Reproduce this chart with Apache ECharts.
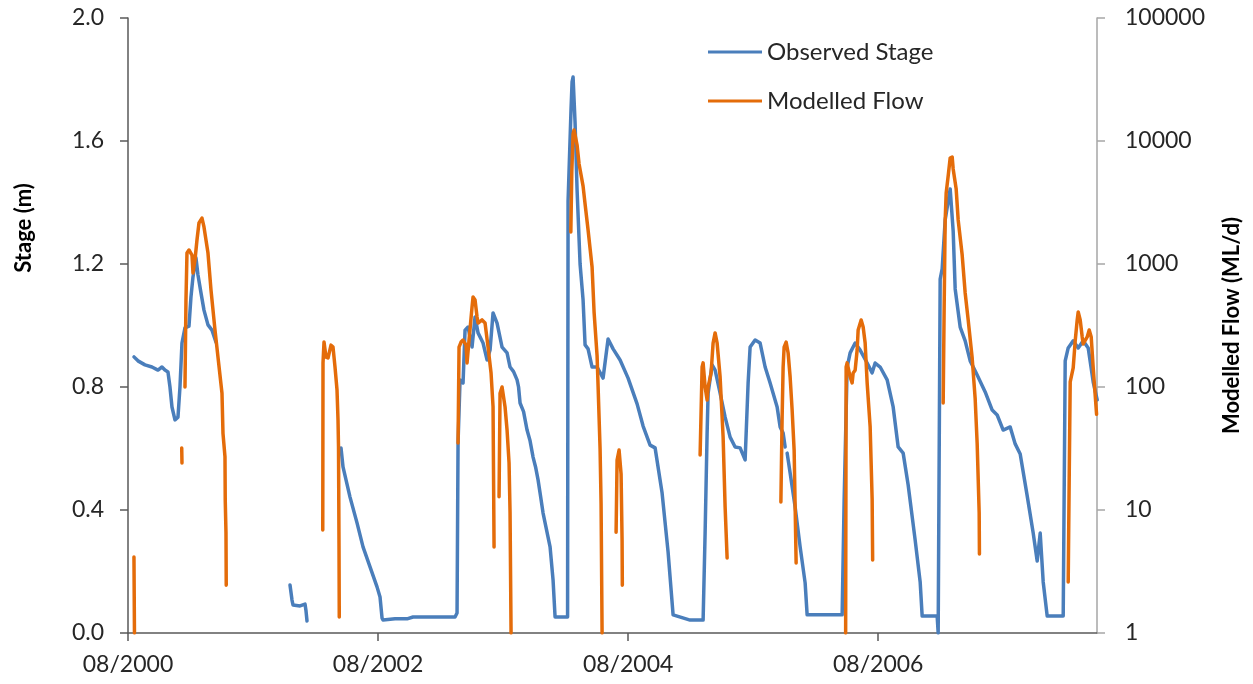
<!DOCTYPE html>
<html>
<head>
<meta charset="utf-8">
<title>Observed Stage and Modelled Flow</title>
<script src="https://cdn.jsdelivr.net/npm/echarts@6/dist/echarts.min.js"></script>
<style>
  html, body { margin: 0; padding: 0; background: #ffffff; }
  #chart { width: 1253px; height: 684px; }
</style>
</head>
<body>
<div id="chart"></div>
<script>
// Tick labels
const dateTickLabels = ['08/2000', '08/2002', '08/2004', '08/2006'];
const stageTicks = [0, 0.4, 0.8, 1.2, 1.6, 2.0];
const flowTicks = [1, 10, 100, 1000, 10000, 100000];

// Observed stage (m) as [decimal year, stage]; each array is one unbroken record
const stageRecord1 = [
  [2000.631,0.898],[2000.663,0.885],[2000.719,0.872],[2000.775,0.865],[2000.823,0.855],
  [2000.855,0.865],[2000.879,0.855],[2000.903,0.849],[2000.919,0.800],[2000.935,0.735],
  [2000.959,0.693],[2000.983,0.702],[2000.999,0.800],[2001.015,0.943],[2001.039,0.992],
  [2001.071,0.998],[2001.087,1.093],[2001.103,1.158],[2001.127,1.220],[2001.143,1.164],
  [2001.167,1.106],[2001.191,1.050],[2001.223,1.002],[2001.255,0.985],[2001.287,0.946]
];
const stageRecord2 = [
  [2001.879,0.156],[2001.895,0.107],[2001.903,0.091],[2001.959,0.088],[2001.999,0.094],
  [2002.007,0.072],[2002.015,0.039]
];
const stageRecord3 = [
  [2002.287,0.602],[2002.303,0.540],[2002.359,0.442],[2002.415,0.358],[2002.463,0.280],
  [2002.519,0.215],[2002.575,0.150],[2002.599,0.117],[2002.615,0.049],[2002.623,0.042],
  [2002.719,0.046],[2002.815,0.046],[2002.863,0.052],[2003.199,0.052],[2003.215,0.065],
  [2003.223,0.618],[2003.239,0.823],[2003.263,0.813],[2003.279,0.985],[2003.303,0.995],
  [2003.335,0.930],[2003.359,1.028],[2003.383,0.976],[2003.423,0.943],[2003.455,0.888],
  [2003.479,0.920],[2003.503,1.041],[2003.535,1.008],[2003.575,0.930],[2003.615,0.911],
  [2003.639,0.865],[2003.667,0.850],[2003.695,0.823],[2003.707,0.800],[2003.719,0.748],
  [2003.747,0.720],[2003.775,0.660],[2003.799,0.625],[2003.823,0.572],[2003.843,0.540],
  [2003.863,0.498],[2003.883,0.445],[2003.903,0.390],[2003.959,0.280],[2003.983,0.172],
  [2003.999,0.052],[2004.099,0.052],[2004.103,1.405],[2004.127,1.707],[2004.135,1.792],
  [2004.143,1.808],[2004.159,1.659],[2004.175,1.441],[2004.199,1.200],[2004.223,1.083],
  [2004.239,0.937],[2004.263,0.924],[2004.295,0.865],[2004.335,0.865],[2004.383,0.829],
  [2004.423,0.956],[2004.463,0.924],[2004.519,0.888],[2004.583,0.829],[2004.655,0.745],
  [2004.703,0.673],[2004.759,0.611],[2004.799,0.602],[2004.855,0.455],[2004.903,0.263],
  [2004.943,0.059],[2005.079,0.042],[2005.183,0.042],[2005.199,0.325],[2005.215,0.650],
  [2005.223,0.780],[2005.255,0.872],[2005.279,0.855],[2005.319,0.780],[2005.359,0.702],
  [2005.399,0.637],[2005.439,0.605],[2005.479,0.602],[2005.519,0.563],[2005.543,0.813],
  [2005.559,0.930],[2005.599,0.953],[2005.639,0.943],[2005.679,0.865],[2005.719,0.813],
  [2005.775,0.735],[2005.799,0.670],[2005.823,0.650],[2005.839,0.605]
];
const stageRecord4 = [
  [2005.855,0.585],[2005.879,0.520],[2005.919,0.410],[2005.959,0.280],[2005.999,0.163],
  [2006.015,0.059],[2006.295,0.059],[2006.311,0.433],[2006.335,0.865],[2006.359,0.911],
  [2006.399,0.943],[2006.439,0.920],[2006.495,0.878],[2006.535,0.846],[2006.559,0.878],
  [2006.599,0.865],[2006.655,0.823],[2006.703,0.735],[2006.743,0.605],[2006.783,0.585],
  [2006.823,0.481],[2006.879,0.302],[2006.919,0.166],[2006.935,0.055],[2007.055,0.055],
  [2007.063,0.000],[2007.079,1.151],[2007.095,1.184],[2007.119,1.343],[2007.159,1.444],
  [2007.183,1.307],[2007.199,1.119],[2007.239,0.995],[2007.279,0.950],[2007.319,0.885],
  [2007.375,0.839],[2007.439,0.784],[2007.495,0.725],[2007.535,0.709],[2007.583,0.660],
  [2007.639,0.670],[2007.679,0.615],[2007.719,0.582],[2007.775,0.446],[2007.823,0.325],
  [2007.855,0.234],[2007.879,0.325],[2007.903,0.166],[2007.935,0.055],[2008.063,0.055],
  [2008.079,0.885],[2008.103,0.927],[2008.143,0.950],[2008.183,0.927],[2008.223,0.950],
  [2008.263,0.927],[2008.303,0.816],[2008.335,0.758]
];

// Modelled flow (ML/d) as [decimal year, flow]; one array per flow event
const flowEvent1 = [[2000.631,4.15],[2000.635,1]];
const flowEvent2 = [[2001.013,31.9],[2001.015,24.1]];
const flowEvent3 = [
  [2001.039,100],[2001.047,510],[2001.055,1228],[2001.071,1300],[2001.095,1183],
  [2001.103,845],[2001.119,1078],[2001.135,1567],[2001.151,2154],[2001.175,2364],
  [2001.191,2000],[2001.223,1228],[2001.247,615],[2001.279,291],[2001.303,175],
  [2001.335,89],[2001.343,42],[2001.359,27],[2001.361,12.1],[2001.367,6.5],[2001.369,2.45]
];
const flowEvent4 = [
  [2002.141,6.88],[2002.143,157],[2002.151,232],[2002.167,175],[2002.183,172],
  [2002.207,219],[2002.223,211],[2002.239,145],[2002.255,94.6],[2002.263,53.9],
  [2002.267,32.5],[2002.271,5.0],[2002.273,1.35]
];
const flowEvent5 = [
  [2003.223,35],[2003.231,211],[2003.247,232],[2003.263,241],[2003.287,219],
  [2003.295,157],[2003.311,241],[2003.335,447],[2003.343,539],[2003.359,509],
  [2003.375,371],[2003.383,331],[2003.415,351],[2003.439,331],[2003.463,211],
  [2003.487,130],[2003.503,68.8],[2003.511,5.0]
];
const flowEvent6 = [
  [2003.551,12.8],[2003.559,89],[2003.575,100],[2003.583,100],[2003.599,68.8],
  [2003.615,44.7],[2003.631,24.1],[2003.639,9.45],[2003.647,1]
];
const flowEvent7 = [
  [2004.125,1820],[2004.133,5700],[2004.143,11400],[2004.151,12280],[2004.175,9270],
  [2004.191,6500],[2004.223,4300],[2004.239,3075],[2004.263,1890],[2004.295,945],
  [2004.311,407],[2004.335,179],[2004.343,102],[2004.359,31.3],[2004.367,11.2],[2004.375,1]
];
const flowEvent8 = [
  [2004.487,6.6],[2004.495,25.5],[2004.511,30.7],[2004.527,19.6],[2004.535,5.6],[2004.537,2.45]
];
const flowEvent9 = [
  [2005.159,28],[2005.175,145.5],[2005.183,157],[2005.199,100],[2005.215,78.4],
  [2005.223,100],[2005.247,130],[2005.263,228],[2005.279,275],[2005.295,228],
  [2005.319,120.6],[2005.343,39.2],[2005.359,10.6],[2005.375,4.07]
];
const flowEvent10 = [
  [2005.805,11.6],[2005.815,57],[2005.823,145.5],[2005.831,211],[2005.847,232],
  [2005.863,189],[2005.879,120.6],[2005.895,65],[2005.911,30.7],[2005.927,3.71]
];
const flowEvent11 = [
  [2006.323,1],[2006.327,145.5],[2006.335,157],[2006.359,120.6],[2006.375,108],
  [2006.383,130],[2006.399,137],[2006.415,200],[2006.423,291],[2006.447,351],
  [2006.463,307],[2006.479,228],[2006.495,108],[2006.519,47.3],[2006.535,12.1],[2006.539,3.92]
];
const flowEvent12 = [
  [2007.103,74],[2007.111,456],[2007.119,2280],[2007.127,3780],[2007.143,5190],
  [2007.159,7270],[2007.175,7410],[2007.183,5920],[2007.207,4070],[2007.223,2280],
  [2007.255,1183],[2007.279,581],[2007.303,351],[2007.335,172],[2007.359,79.9],
  [2007.375,34.4],[2007.391,9.45],[2007.393,4.39]
];
const flowEvent13 = [
  [2008.103,2.6],[2008.111,18.2],[2008.119,110],[2008.143,143],[2008.159,237],
  [2008.175,351],[2008.183,407],[2008.199,351],[2008.215,255],[2008.223,224],
  [2008.255,255],[2008.271,291],[2008.287,255],[2008.303,143],[2008.330,60]
];

const stageRecords = [stageRecord1, stageRecord2, stageRecord3, stageRecord4];
const flowEvents = [flowEvent1, flowEvent2, flowEvent3, flowEvent4, flowEvent5, flowEvent6,
  flowEvent7, flowEvent8, flowEvent9, flowEvent10, flowEvent11, flowEvent12, flowEvent13];

// The x axis counts months from August 2000
const START_YEAR = 2000 + 7 / 12;
const toMonths = yr => (yr - START_YEAR) * 12;
const monthTicks = dateTickLabels.map((_, i) => i * 24);

const STAGE_COLOR = '#4a7ebb';
const FLOW_COLOR = '#e46c0a';
const FONT = 'Lato, "Open Sans", sans-serif';
const DARK = '#595959';
const LABEL_SIZE = 23;
const TITLE_SIZE = 22;

function lineSeries(name, pts, color, yIndex) {
  return {
    name: name,
    type: 'line',
    yAxisIndex: yIndex,
    data: pts.map(p => [toMonths(p[0]), p[1]]),
    showSymbol: false,
    symbol: 'none',
    clip: true,
    color: color,
    lineStyle: { color: color, width: 3.5, cap: 'round', join: 'round' },
    emphasis: { disabled: true },
    z: yIndex === 1 ? 3 : 2
  };
}

const series = [];
stageRecords.forEach(r => series.push(lineSeries('Observed Stage', r, STAGE_COLOR, 0)));
flowEvents.forEach(r => series.push(lineSeries('Modelled Flow', r, FLOW_COLOR, 1)));

const chart = echarts.init(document.getElementById('chart'), null, { renderer: 'canvas' });
chart.setOption({
  animation: false,
  backgroundColor: '#ffffff',
  textStyle: { fontFamily: FONT },
  grid: { left: 128, right: 156, top: 18, bottom: 51, containLabel: false },
  legend: {
    orient: 'vertical',
    left: 703,
    top: 35,
    itemWidth: 54,
    itemHeight: 3,
    itemGap: 25,
    icon: 'rect',
    data: ['Observed Stage', 'Modelled Flow'],
    textStyle: { fontFamily: FONT, fontSize: 24, color: '#262626' },
    selectedMode: false
  },
  // Left axis title sits above the middle of the axis
  graphic: [{
    type: 'text',
    x: 24,
    y: 228,
    rotation: Math.PI / 2,
    style: {
      text: 'Stage (m)',
      font: 'bold ' + TITLE_SIZE + 'px ' + FONT,
      fill: '#000',
      align: 'center',
      verticalAlign: 'middle'
    }
  }],
  xAxis: {
    type: 'value',
    min: 0,
    max: 93,
    interval: 24,
    axisLine: { onZero: false, lineStyle: { color: DARK, width: 1.5 } },
    axisTick: { show: true, length: 8, customValues: monthTicks, lineStyle: { color: DARK, width: 1.5 } },
    axisLabel: {
      customValues: monthTicks,
      formatter: v => dateTickLabels[Math.round(v / 24)] || '',
      fontFamily: FONT, fontSize: LABEL_SIZE, color: '#262626', margin: 20
    },
    splitLine: { show: false }
  },
  yAxis: [
    {
      type: 'value',
      min: 0,
      max: 2,
      interval: 0.4,
      position: 'left',
      axisLine: { show: true, onZero: false, lineStyle: { color: DARK, width: 1.5 } },
      axisTick: { show: true, length: 8, customValues: stageTicks, lineStyle: { color: DARK, width: 1.5 } },
      axisLabel: {
        customValues: stageTicks,
        formatter: v => v.toFixed(1),
        fontFamily: FONT, fontSize: LABEL_SIZE, color: '#262626', margin: 24
      },
      splitLine: { show: false }
    },
    {
      type: 'log',
      logBase: 10,
      min: 1,
      max: 100000,
      position: 'right',
      name: 'Modelled Flow (ML/d)',
      nameLocation: 'middle',
      nameRotate: 90,
      nameGap: 124,
      nameTextStyle: { fontFamily: FONT, fontSize: TITLE_SIZE, fontWeight: 'bold', color: '#000' },
      axisLine: { show: true, onZero: false, lineStyle: { color: '#a6a6a6', width: 1.5 } },
      axisTick: { show: true, length: 8, lineStyle: { color: '#a6a6a6', width: 1.5 } },
      axisLabel: {
        formatter: v => String(Math.round(v)),
        fontFamily: FONT, fontSize: LABEL_SIZE, color: '#262626', margin: 28
      },
      splitLine: { show: false }
    }
  ],
  series: series
});
</script>
</body>
</html>
